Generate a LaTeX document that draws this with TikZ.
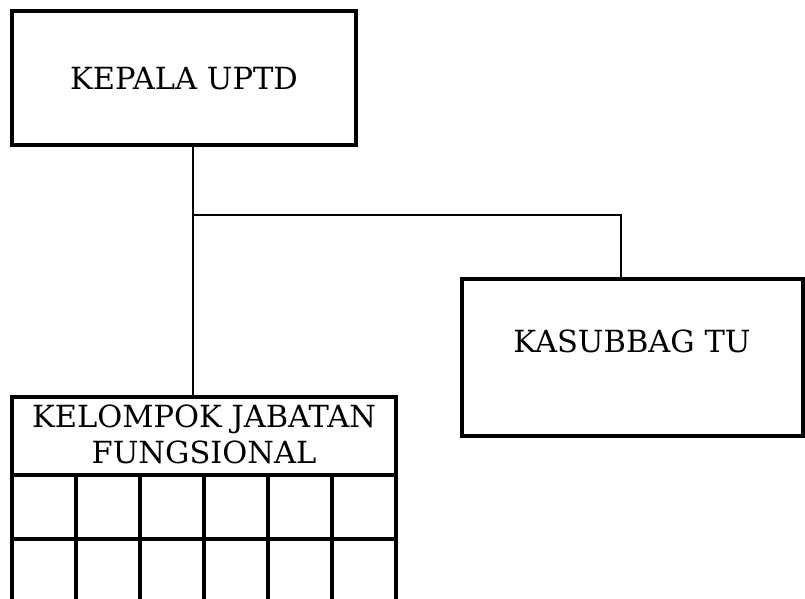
\documentclass[tikz,border=0pt]{standalone}
\usepackage{fontspec}
\setmainfont{DejaVu Serif}
\begin{document}
\begin{tikzpicture}[x=1pt,y=-1pt,
  orgbox/.style={draw=black,line width=4pt,rectangle,inner sep=0pt,outer sep=0pt,anchor=north west},
  conn/.style={draw=black,line width=1.6pt},
  lbl/.style={font=\fontsize{30.5}{36}\selectfont,align=center,inner sep=0pt}]
\clip (0,0) rectangle (805,599);
\useasboundingbox (0,0) rectangle (805,599);
% boxes
\node[orgbox,minimum width=344pt,minimum height=134pt] (kepala) at (12,11) {};
\node[lbl] (kepalatxt) at (184,79) {KEPALA UPTD};
\node[orgbox,minimum width=341pt,minimum height=157pt] (kasubbag) at (462,279) {};
\node[lbl] (kasubbagtxt) at (632,341) {KASUBBAG TU};
\node[orgbox,minimum width=384pt,minimum height=78pt] (jf) at (12,397) {};
\node[lbl] (jftxt) at (204,434) {KELOMPOK JABATAN\\FUNGSIONAL};
% grid under the header
\foreach \i in {0,...,5}{
  \foreach \r/\t in {0/475,1/539}{
    \node[orgbox,minimum width=64pt,minimum height=64pt] (cell\i\r) at ({12+64*\i},\t) {};
  }
}
% connectors
\coordinate (j) at (193,215);
\coordinate (k) at (621,215);
\draw[conn] (kepala.south -| j) -- (jf.north -| j);
\draw[conn] (j) -- (k) -- (kasubbag.north -| k);
\end{tikzpicture}
\end{document}
